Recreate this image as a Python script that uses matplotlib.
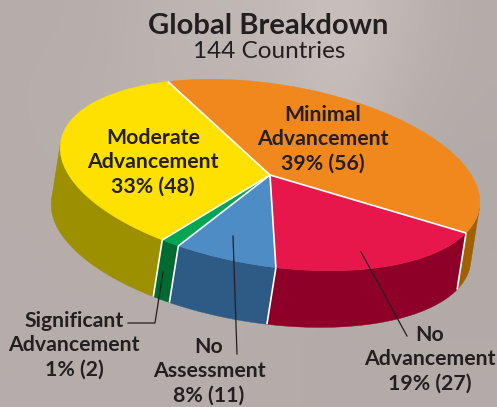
import numpy as np
import matplotlib
matplotlib.use('Agg')
import matplotlib.pyplot as plt
from matplotlib.patches import Wedge, Polygon
from matplotlib.transforms import Affine2D

# values
categories = ['Minimal', 'No Advancement', 'No Assessment', 'Significant', 'Moderate']
counts = [56, 27, 11, 2, 48]
top_colors = ['#F0881E', '#E8174B', '#4E8CC6', '#00A651', '#FFE100']
side_colors = ['#A06000', '#8E0028', '#2E5A86', '#006B30', '#9C8F00']

title = 'Global Breakdown'
subtitle = '144 Countries'

label_lines = [
    ['Minimal', 'Advancement', '39% (56)'],
    ['No', 'Advancement', '19% (27)'],
    ['No', 'Assessment', '8% (11)'],
    ['Significant', 'Advancement', '1% (2)'],
    ['Moderate', 'Advancement', '33% (48)'],
]
label_x = [323, 430, 209, 74, 153]
label_y = [115, 335, 347, 321, 138]

# leader lines in pixels
leaders = [
    ([361, 407], [252, 336]),
    ([233, 237], [236, 354]),
    ([128, 155, 163], [323, 323, 272]),
]

# rough greys for the photo behind the chart
bg_grey = np.array([
    [182, 182, 188, 192, 194, 204, 190, 180],
    [182, 184, 188, 188, 190, 200, 184, 180],
    [182, 182, 184, 186, 186, 192, 180, 178],
    [182, 182, 182, 182, 182, 184, 178, 178],
    [182, 182, 182, 182, 180, 180, 178, 178],
    [182, 182, 182, 182, 180, 180, 180, 180],
]) / 255
bg_rgb = np.dstack([bg_grey, bg_grey * 0.955, bg_grey * 0.94])

plt.rcParams['font.family'] = ['Lato', 'DejaVu Sans']

fig = plt.figure(figsize=(4.97, 4.07), dpi=100)
ax = fig.add_axes([0, 0, 1, 1])
ax.imshow(bg_rgb, extent=(0, 497, 407, 0), interpolation='bicubic', aspect='auto', zorder=0)
ax.set_xlim(0, 497)
ax.set_ylim(407, 0)
ax.axis('off')

# unit circle -> tilted ellipse of the pie top
pie_tf = Affine2D().scale(212, 91).rotate_deg(9).translate(270, 175) + ax.transData
depth = 0.63
start = -123

angles = start + np.concatenate([[0], np.cumsum(counts)]) * 360 / sum(counts)

# walls first
for i in range(len(counts)):
    lo = max(angles[i], 0)
    hi = min(angles[i + 1], 180)
    if hi <= lo:
        continue
    t = np.radians(np.linspace(lo, hi, 80))
    upper = np.column_stack([np.cos(t), np.sin(t)])
    lower = np.column_stack([np.cos(t), np.sin(t) + depth])[::-1]
    ax.add_patch(Polygon(np.vstack([upper, lower]), closed=True, facecolor=side_colors[i],
                         edgecolor=side_colors[i], lw=0.3, transform=pie_tf, zorder=2))

# top face
for i in range(len(counts)):
    ax.add_patch(Wedge((0, 0), 1, angles[i], angles[i + 1], facecolor=top_colors[i],
                       edgecolor=top_colors[i], lw=0.3, transform=pie_tf, zorder=3))

# white separators
for a in angles[:-1]:
    c, s = np.cos(np.radians(a)), np.sin(np.radians(a))
    ax.plot([0, c], [0, s], color='white', lw=1.2, transform=pie_tf, zorder=4, solid_capstyle='butt')
    if 0 < a < 180:
        ax.plot([c, c], [s, s + depth], color='white', lw=1.2, transform=pie_tf, zorder=4,
                solid_capstyle='butt')

for xs, ys in leaders:
    ax.plot(xs, ys, color='#231F20', lw=0.9, zorder=5)

ax.text(268, 26, title, fontsize=21, fontweight='bold', color='#231F20', ha='center', va='center', zorder=6)
ax.text(269, 52, subtitle, fontsize=17.5, color='#231F20', ha='center', va='center', zorder=6)

for lines, x, y in zip(label_lines, label_x, label_y):
    for j, line in enumerate(lines):
        ax.text(x, y + j * 24.3, line, fontsize=15.3, fontweight='bold', color='#231F20',
                ha='center', va='center', zorder=6)

plt.savefig('out.png', dpi=100)
